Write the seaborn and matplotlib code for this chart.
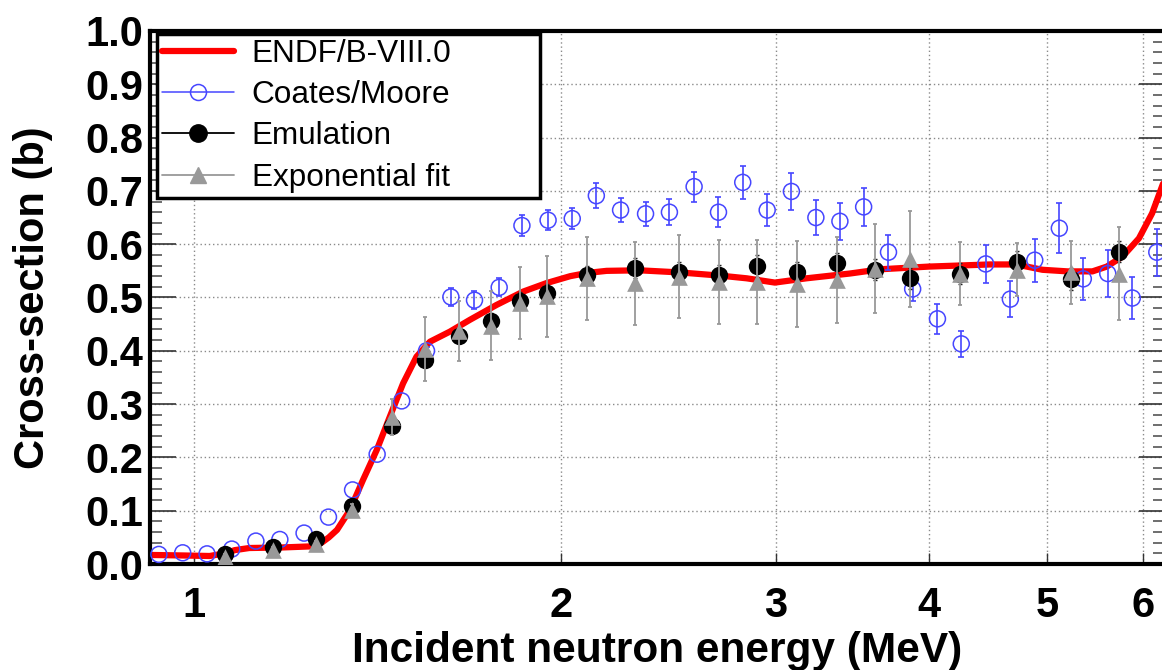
import matplotlib
matplotlib.use("Agg")
import matplotlib.pyplot as plt
import seaborn as sns
import numpy as np
import pandas as pd
from matplotlib.lines import Line2D
from matplotlib.ticker import FixedLocator, FixedFormatter, MultipleLocator, NullLocator, FormatStrFormatter

# ---------------- data ----------------
endf_energy = [0.92, 0.98, 1.03, 1.06, 1.08, 1.11, 1.18, 1.245, 1.265, 1.276, 1.29, 1.31,
               1.342, 1.376, 1.412, 1.447, 1.484, 1.522, 1.561, 1.621, 1.683, 1.770,
               1.861, 1.945, 2.034, 2.099, 2.179, 2.319, 2.503, 2.701, 2.838, 2.993,
               3.177, 3.449, 3.655, 4.003, 4.49, 4.72, 4.96, 5.20, 5.45, 5.60, 5.77,
               5.95, 6.10, 6.26]
endf_xs = [0.017, 0.016, 0.015, 0.020, 0.026, 0.030, 0.031, 0.033, 0.036, 0.042, 0.050, 0.064,
           0.101, 0.158, 0.214, 0.276, 0.339, 0.389, 0.417, 0.436, 0.458, 0.486,
           0.511, 0.527, 0.540, 0.546, 0.550, 0.551, 0.547, 0.541, 0.536, 0.528,
           0.536, 0.545, 0.553, 0.558, 0.562, 0.562, 0.552, 0.549, 0.549, 0.558, 0.577,
           0.611, 0.658, 0.728]

coates_energy = [0.936, 0.979, 1.025, 1.074, 1.124, 1.176, 1.231, 1.289, 1.349, 1.413, 1.480,
                 1.551, 1.624, 1.698, 1.779, 1.857, 1.951, 2.042, 2.137, 2.237, 2.345, 2.453,
                 2.570, 2.691, 2.817, 2.950, 3.088, 3.234, 3.384, 3.539, 3.709, 3.882, 4.068,
                 4.255, 4.456, 4.668, 4.888, 5.120, 5.357, 5.610, 5.876, 6.154]
coates_xs = [0.018, 0.021, 0.019, 0.028, 0.043, 0.046, 0.058, 0.088, 0.139, 0.206, 0.306,
             0.400, 0.501, 0.495, 0.519, 0.635, 0.645, 0.648, 0.691, 0.664, 0.657, 0.660,
             0.708, 0.660, 0.716, 0.664, 0.699, 0.650, 0.643, 0.670, 0.585, 0.516, 0.460,
             0.413, 0.563, 0.497, 0.570, 0.630, 0.535, 0.545, 0.499, 0.585]
coates_err = [0.002, 0.002, 0.002, 0.002, 0.002, 0.002, 0.002, 0.002, 0.003, 0.003, 0.004,
              0.008, 0.017, 0.017, 0.017, 0.019, 0.019, 0.020, 0.023, 0.022, 0.023, 0.024,
              0.028, 0.028, 0.031, 0.030, 0.034, 0.032, 0.035, 0.036, 0.033, 0.023, 0.028,
              0.024, 0.036, 0.034, 0.040, 0.047, 0.040, 0.044, 0.040, 0.044]

emu_energy = [1.061, 1.160, 1.258, 1.347, 1.453, 1.547, 1.649, 1.752, 1.849, 1.947, 2.099,
              2.297, 2.498, 2.696, 2.895, 3.119, 3.368, 3.615, 3.863, 4.246, 4.729, 5.232, 5.728]
emu_xs = [0.019, 0.031, 0.046, 0.109, 0.259, 0.383, 0.428, 0.455, 0.494, 0.508, 0.542,
          0.556, 0.548, 0.542, 0.559, 0.547, 0.564, 0.552, 0.536, 0.545, 0.567, 0.535, 0.586]
emu_err = [0.003, 0.003, 0.004, 0.006, 0.010, 0.012, 0.014, 0.015, 0.016, 0.017, 0.018,
           0.019, 0.019, 0.019, 0.020, 0.020, 0.020, 0.020, 0.020, 0.020, 0.020, 0.020, 0.020]

fit_xs = [0.014, 0.026, 0.038, 0.101, 0.276, 0.403, 0.437, 0.447, 0.490, 0.502, 0.536,
          0.527, 0.539, 0.529, 0.529, 0.525, 0.533, 0.554, 0.573, 0.545, 0.552, 0.547, 0.545]
fit_err = [0.004, 0.005, 0.006, 0.012, 0.034, 0.060, 0.057, 0.065, 0.068, 0.076, 0.078,
           0.078, 0.078, 0.078, 0.079, 0.081, 0.081, 0.083, 0.090, 0.059, 0.050, 0.059, 0.088]

x_ticks = [1, 2, 3, 4, 5, 6]
x_tick_labels = ["1", "2", "3", "4", "5", "6"]
legend_labels = ["ENDF/B-VIII.0", "Coates/Moore", "Emulation", "Exponential fit"]

# ---------------- style ----------------
sns.set_theme(style="white")
plt.rcParams["font.family"] = ["Liberation Sans", "DejaVu Sans"]
plt.rcParams["text.color"] = "black"
plt.rcParams["axes.labelcolor"] = "black"
plt.rcParams["xtick.color"] = "black"
plt.rcParams["ytick.color"] = "black"

RED = "#ff0000"
BLUE = "#4646ff"
GRAY = "#999999"

fig = plt.figure(figsize=(11.62, 6.70), dpi=100)
W, H = 1162, 670
AX_L, AX_R, AX_T, AX_B = 150, 1165, 31, 564
ax = fig.add_axes([AX_L / W, (H - AX_B) / H, (AX_R - AX_L) / W, (AX_B - AX_T) / H])
ax.set_xscale("log")

endf_df = pd.DataFrame({"E": endf_energy, "xs": endf_xs})
sns.lineplot(data=endf_df, x="E", y="xs", color=RED, lw=4.5, ax=ax, zorder=2,
             sort=False, estimator=None, legend=False)

c_df = pd.DataFrame({"E": coates_energy, "xs": coates_xs, "err": coates_err})
c_bar = c_df[c_df["err"] > 0.006]
ax.errorbar(c_bar["E"], c_bar["xs"], yerr=c_bar["err"], fmt="none", ecolor=BLUE,
            elinewidth=1.2, capsize=2.2, capthick=1.2, zorder=3)
sns.scatterplot(data=c_df, x="E", y="xs", ax=ax, marker="o", s=11.5 ** 2,
                facecolor="none", edgecolor=BLUE, linewidth=1.1, zorder=3.1, legend=False)

ax.errorbar(emu_energy, emu_xs, yerr=emu_err, fmt="none", ecolor="#222222",
            elinewidth=1.0, capsize=1.2, capthick=1.0, zorder=4)
sns.scatterplot(x=emu_energy, y=emu_xs, ax=ax, marker="o", s=12.5 ** 2,
                color="black", edgecolor="black", linewidth=0, zorder=4.1, legend=False)

ax.errorbar(emu_energy, fit_xs, yerr=fit_err, fmt="none", ecolor=GRAY,
            elinewidth=1.3, capsize=1.5, capthick=1.3, zorder=5)
sns.scatterplot(x=emu_energy, y=fit_xs, ax=ax, marker="^", s=12 ** 2,
                color=GRAY, edgecolor=GRAY, linewidth=0, zorder=5.1, legend=False)

# ---------------- axes ----------------
ax.set_xlim(0.9204, 6.25)
ax.set_ylim(0.0, 1.0)

ax.xaxis.set_major_locator(FixedLocator(x_ticks))
ax.xaxis.set_major_formatter(FixedFormatter(x_tick_labels))
ax.xaxis.set_minor_locator(NullLocator())
ax.yaxis.set_major_locator(MultipleLocator(0.1))
ax.yaxis.set_minor_locator(MultipleLocator(0.02))
ax.yaxis.set_major_formatter(FormatStrFormatter("%.1f"))

ax.grid(True, which="major", color="#8a8a8a", lw=1.0, ls=(0, (1, 2)), zorder=0)
ax.set_axisbelow(True)

for sp in ax.spines.values():
    sp.set_linewidth(3.0)
    sp.set_color("black")

ax.tick_params(axis="y", which="major", direction="in", length=19, width=1.2,
               left=True, right=True, labelsize=30, pad=5, color="#333333")
ax.tick_params(axis="y", which="minor", direction="in", length=8.5, width=1.2,
               left=True, right=True, color="#555555")
ax.tick_params(axis="x", which="major", direction="in", length=8, width=1.0,
               bottom=True, top=False, labelsize=30, pad=16, color="#333333")
for lab in ax.get_xticklabels() + ax.get_yticklabels():
    lab.set_fontweight("bold")
    lab.set_color("black")

ax.set_xlabel("Incident neutron energy (MeV)", fontsize=30.5, fontweight="bold", color="black")
ax.set_ylabel("Cross-section (b)", fontsize=30, fontweight="bold", color="black")
ax.xaxis.set_label_coords((657.5 - AX_L) / (AX_R - AX_L), -0.125)
ax.yaxis.set_label_coords((53 - AX_L) / (AX_R - AX_L), 0.5)

# ---------------- legend ----------------
handles = [
    Line2D([], [], color=RED, lw=4.5),
    Line2D([], [], color=BLUE, lw=1.1, marker="o", mfc="none", mec=BLUE, ms=11.5, mew=1.1),
    Line2D([], [], color="black", lw=1.3, marker="o", mfc="black", mec="black", ms=12.5),
    Line2D([], [], color=GRAY, lw=1.3, marker="^", mfc=GRAY, mec=GRAY, ms=12),
]
ax_w = AX_R - AX_L
ax_h = AX_B - AX_T
leg_x0 = (157 - AX_L) / ax_w
leg_w = (540 - 157) / ax_w
leg_top = (AX_B - 34) / ax_h
leg_h = (197 - 34) / ax_h
leg = ax.legend(handles, legend_labels, loc="upper left", mode="expand",
                bbox_to_anchor=(leg_x0, leg_top - leg_h, leg_w, leg_h), fontsize=22.7,
                frameon=True, fancybox=False, shadow=False, framealpha=1,
                edgecolor="black", borderpad=0.15, labelspacing=0.36,
                handlelength=2.3, handletextpad=0.55, borderaxespad=0)
leg.get_frame().set_linewidth(2.5)
leg.set_zorder(10)

fig.savefig("out.png", dpi=100)
